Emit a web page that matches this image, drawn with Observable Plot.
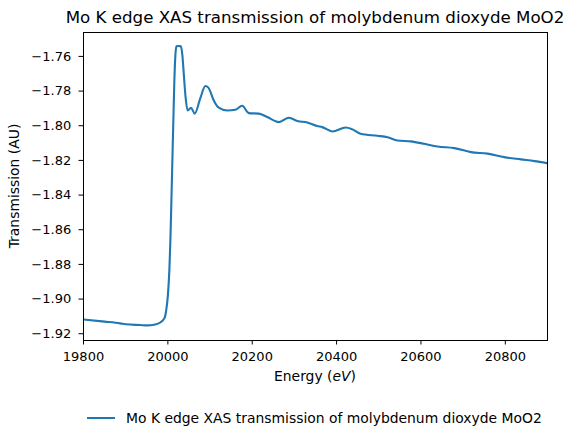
<!DOCTYPE html>
<html>
<head>
<meta charset="utf-8">
<script src="https://cdn.jsdelivr.net/npm/d3@7"></script>
<script src="https://cdn.jsdelivr.net/npm/@observablehq/plot@0.6"></script>
<style>
  html, body { margin: 0; padding: 0; background: white; }
  #wrap { position: relative; width: 573px; height: 443px; font-family: "DejaVu Sans", sans-serif; color: black; overflow: hidden; }
  #wrap svg { position: absolute; left: 0; top: 0; }
  .lbl { position: absolute; white-space: nowrap; }
</style>
</head>
<body>
<div id="wrap">
  <div class="lbl" id="title" style="font-size:16.67px;line-height:16.67px;top:10px;left:315px;transform:translateX(-50%);">Mo K edge XAS transmission of molybdenum dioxyde MoO2</div>
  <div class="lbl" id="xlabel" style="font-size:13.9px;line-height:13.9px;top:370px;left:315px;transform:translateX(-50%);">Energy (<i>eV</i>)</div>
  <div class="lbl" id="ylabel" style="font-size:13.9px;line-height:13.9px;top:186px;left:15px;transform:translate(-50%,-50%) rotate(-90deg);">Transmission (AU)</div>
  <div class="lbl" id="legend" style="font-size:13.9px;line-height:13.9px;top:412px;left:87px;">
    <span style="display:inline-block;width:28px;height:2px;background:#1f77b4;vertical-align:middle;margin-right:11px;position:relative;top:-1px;"></span>Mo K edge XAS transmission of molybdenum dioxyde MoO2
  </div>
</div>
<script>
const energy = [19800, 19850, 19887, 19900, 19935, 19950, 19970, 19982, 19992, 19996, 20000, 20003.6, 20006, 20008.4, 20010.7, 20013, 20015.4, 20017.8, 20020.2, 20025, 20031, 20034.4, 20038, 20041.6, 20047, 20055, 20063.6, 20077, 20089, 20096, 20108.8, 20120.7, 20140.6, 20160.3, 20176, 20192, 20215.7, 20235.6, 20263, 20287, 20307, 20330.6, 20354, 20366, 20390, 20421.6, 20437.5, 20457, 20497, 20520.7, 20544.4, 20576, 20607.6, 20639.4, 20679, 20718.5, 20758, 20797.6, 20837, 20869, 20900];
const transmission = [-1.9118, -1.913, -1.914, -1.9145, -1.915, -1.9152, -1.9147, -1.9135, -1.911, -1.9066, -1.898, -1.883, -1.866, -1.843, -1.820, -1.797, -1.774, -1.7594, -1.7542, -1.754, -1.7542, -1.7594, -1.771, -1.7825, -1.7912, -1.7896, -1.793, -1.784, -1.7771, -1.778, -1.7854, -1.7896, -1.7912, -1.7908, -1.7885, -1.7927, -1.793, -1.795, -1.7979, -1.7954, -1.7973, -1.7981, -1.8002, -1.8008, -1.8033, -1.801, -1.8021, -1.8046, -1.8058, -1.8066, -1.8085, -1.809, -1.8104, -1.812, -1.8129, -1.8152, -1.8161, -1.8181, -1.8194, -1.8204, -1.8216];
const xTicks = [19800, 20000, 20200, 20400, 20600, 20800];
const yTicks = [-1.92, -1.90, -1.88, -1.86, -1.84, -1.82, -1.80, -1.78, -1.76];

const data = energy.map((e, i) => ({energy: e, value: transmission[i]}));

const chart = Plot.plot({
  width: 573,
  height: 400,
  marginLeft: 83,
  marginRight: 26,
  marginTop: 32,
  marginBottom: 60,
  style: {fontFamily: "DejaVu Sans", fontSize: "13px", color: "black", background: "transparent", overflow: "visible"},
  x: {domain: [19800, 20900]},
  y: {domain: [-1.9239, -1.7462]},
  marks: [
    Plot.line(data, {x: "energy", y: "value", stroke: "#1f77b4", strokeWidth: 2.1, curve: "monotone-x", clip: true}),
    Plot.frame({stroke: "black", strokeWidth: 1}),
    Plot.axisX({ticks: xTicks, tickFormat: d3.format("d"), label: null, tickSize: 4.5, tickPadding: 7.2, fontSize: 13}),
    Plot.axisY({ticks: yTicks, tickFormat: d3.format(".2f"), label: null, tickSize: 4.5, tickPadding: 7.8, fontSize: 13})
  ]
});
document.getElementById("wrap").prepend(chart);
</script>
</body>
</html>
